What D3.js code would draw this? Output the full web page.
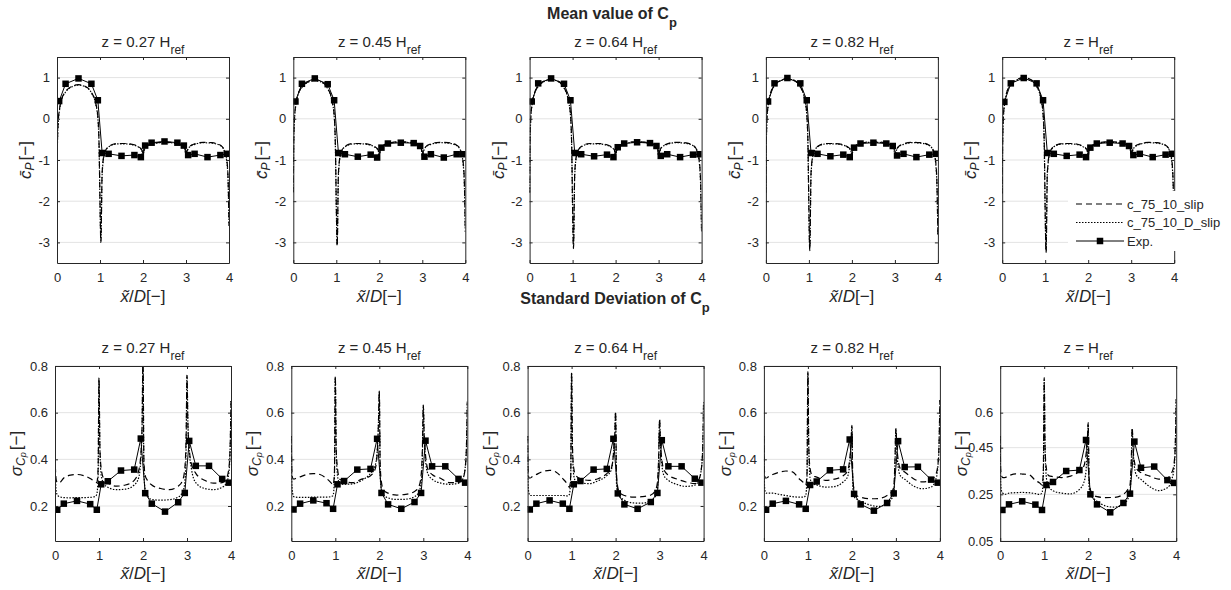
<!DOCTYPE html>
<html><head><meta charset="utf-8">
<script src="https://cdn.jsdelivr.net/npm/d3@7"></script>
<style>
body{margin:0;background:#fff}
svg{display:block}
text{font-family:"Liberation Sans",Arial,sans-serif;fill:#262626}
</style>
</head><body>
<svg id="c" width="1231" height="590"></svg>
<script>
// ---------- data ----------
const xCFD = [0,0.01,0.03,0.06,0.1,0.2,0.35,0.5,0.65,0.8,0.9,0.95,0.98,1.0,1.02,1.05,1.1,1.2,1.4,1.6,1.8,1.9,1.95,1.98,2.0,2.02,2.05,2.1,2.2,2.4,2.6,2.8,2.9,2.95,2.98,3.0,3.02,3.05,3.1,3.2,3.4,3.6,3.8,3.9,3.95,3.98,4.0];
const xExp = [0.05,0.2,0.5,0.8,0.95,1.05,1.2,1.5,1.8,1.95,2.05,2.2,2.5,2.8,2.95,3.05,3.2,3.5,3.8,3.95];
const zLabels = ["0.27 ","0.45 ","0.64 ","0.82 ",""];
const xTicks = [0,1,2,3,4];
const meanTicks = [-3,-2,-1,0,1];
const stdTicks = [0.2,0.4,0.6,0.8];
const stdTicksLast = [0.05,0.25,0.45,0.6];
const legendLabels = ["c_75_10_slip","c_75_10_D_slip","Exp."];

const meanSlip = [
[-1.70,-0.60,-0.05,0.25,0.45,0.66,0.79,0.83,0.79,0.64,0.38,0.05,-0.70,-2.00,-3.00,-1.30,-0.85,-0.67,-0.60,-0.60,-0.63,-0.68,-0.72,-0.78,-0.90,-0.78,-0.70,-0.65,-0.61,-0.57,-0.57,-0.60,-0.64,-0.68,-0.75,-0.90,-0.80,-0.72,-0.66,-0.61,-0.57,-0.58,-0.64,-0.78,-1.00,-1.50,-2.60],
[-1.79,-0.55,0.05,0.35,0.56,0.77,0.90,0.94,0.90,0.74,0.45,0.10,-0.70,-2.10,-3.10,-1.30,-0.85,-0.67,-0.60,-0.60,-0.63,-0.68,-0.72,-0.78,-0.90,-0.78,-0.70,-0.64,-0.60,-0.56,-0.56,-0.59,-0.63,-0.67,-0.74,-0.90,-0.80,-0.72,-0.66,-0.61,-0.57,-0.58,-0.64,-0.78,-1.05,-1.60,-2.75],
[-1.80,-0.55,0.07,0.37,0.58,0.79,0.92,0.96,0.92,0.76,0.47,0.12,-0.70,-2.15,-3.15,-1.30,-0.85,-0.67,-0.60,-0.60,-0.63,-0.68,-0.72,-0.78,-0.90,-0.78,-0.70,-0.64,-0.60,-0.56,-0.56,-0.59,-0.63,-0.67,-0.74,-0.90,-0.80,-0.72,-0.66,-0.61,-0.57,-0.58,-0.64,-0.78,-1.05,-1.65,-2.80],
[-1.80,-0.55,0.08,0.38,0.60,0.81,0.94,0.98,0.94,0.78,0.49,0.13,-0.70,-2.20,-3.20,-1.30,-0.85,-0.67,-0.60,-0.60,-0.63,-0.68,-0.72,-0.78,-0.90,-0.78,-0.70,-0.64,-0.60,-0.56,-0.56,-0.59,-0.63,-0.67,-0.74,-0.90,-0.80,-0.72,-0.66,-0.61,-0.57,-0.58,-0.64,-0.78,-1.05,-1.65,-2.85],
[-1.82,-0.55,0.10,0.40,0.62,0.83,0.96,1.00,0.96,0.80,0.50,0.14,-0.70,-2.25,-3.25,-1.30,-0.85,-0.67,-0.60,-0.60,-0.63,-0.68,-0.72,-0.78,-0.90,-0.78,-0.70,-0.64,-0.60,-0.56,-0.56,-0.59,-0.63,-0.67,-0.74,-0.90,-0.80,-0.72,-0.66,-0.61,-0.57,-0.58,-0.64,-0.78,-1.05,-1.70,-2.90]
];
const meanDSlip = [
[-1.68,-0.62,-0.08,0.22,0.43,0.65,0.78,0.82,0.78,0.63,0.36,0.02,-0.75,-2.05,-2.95,-1.35,-0.87,-0.68,-0.61,-0.61,-0.64,-0.69,-0.73,-0.79,-0.88,-0.80,-0.71,-0.66,-0.62,-0.58,-0.58,-0.61,-0.65,-0.69,-0.76,-0.88,-0.82,-0.73,-0.67,-0.62,-0.58,-0.59,-0.65,-0.80,-1.05,-1.55,-2.55],
[-1.77,-0.58,0.02,0.33,0.55,0.76,0.89,0.93,0.89,0.73,0.43,0.07,-0.75,-2.15,-3.05,-1.35,-0.87,-0.68,-0.61,-0.61,-0.64,-0.69,-0.73,-0.79,-0.88,-0.80,-0.71,-0.65,-0.61,-0.57,-0.57,-0.60,-0.64,-0.68,-0.75,-0.88,-0.82,-0.73,-0.67,-0.62,-0.58,-0.59,-0.65,-0.80,-1.10,-1.65,-2.70],
[-1.78,-0.58,0.04,0.35,0.57,0.78,0.91,0.95,0.91,0.75,0.45,0.09,-0.75,-2.20,-3.10,-1.35,-0.87,-0.68,-0.61,-0.61,-0.64,-0.69,-0.73,-0.79,-0.88,-0.80,-0.71,-0.65,-0.61,-0.57,-0.57,-0.60,-0.64,-0.68,-0.75,-0.88,-0.82,-0.73,-0.67,-0.62,-0.58,-0.59,-0.65,-0.80,-1.10,-1.70,-2.75],
[-1.78,-0.58,0.05,0.36,0.59,0.80,0.93,0.97,0.93,0.77,0.47,0.10,-0.75,-2.25,-3.15,-1.35,-0.87,-0.68,-0.61,-0.61,-0.64,-0.69,-0.73,-0.79,-0.88,-0.80,-0.71,-0.65,-0.61,-0.57,-0.57,-0.60,-0.64,-0.68,-0.75,-0.88,-0.82,-0.73,-0.67,-0.62,-0.58,-0.59,-0.65,-0.80,-1.10,-1.70,-2.80],
[-1.80,-0.58,0.07,0.38,0.61,0.82,0.95,0.99,0.95,0.79,0.48,0.11,-0.75,-2.30,-3.20,-1.35,-0.87,-0.68,-0.61,-0.61,-0.64,-0.69,-0.73,-0.79,-0.88,-0.80,-0.71,-0.65,-0.61,-0.57,-0.57,-0.60,-0.64,-0.68,-0.75,-0.88,-0.82,-0.73,-0.67,-0.62,-0.58,-0.59,-0.65,-0.80,-1.10,-1.75,-2.85]
];
const meanExp = [
[0.43,0.85,0.98,0.85,0.45,-0.83,-0.85,-0.90,-0.88,-0.93,-0.65,-0.58,-0.55,-0.58,-0.65,-0.88,-0.85,-0.93,-0.88,-0.85],
[0.42,0.85,0.98,0.84,0.45,-0.83,-0.86,-0.92,-0.87,-0.94,-0.70,-0.60,-0.58,-0.59,-0.66,-0.92,-0.86,-0.94,-0.86,-0.86],
[0.42,0.86,0.98,0.85,0.45,-0.83,-0.86,-0.91,-0.87,-0.93,-0.69,-0.60,-0.57,-0.59,-0.66,-0.90,-0.86,-0.93,-0.87,-0.86],
[0.42,0.86,0.99,0.86,0.45,-0.83,-0.85,-0.91,-0.87,-0.93,-0.70,-0.60,-0.58,-0.60,-0.66,-0.89,-0.85,-0.93,-0.87,-0.85],
[0.41,0.86,0.99,0.86,0.45,-0.83,-0.85,-0.90,-0.87,-0.93,-0.70,-0.60,-0.58,-0.60,-0.66,-0.88,-0.85,-0.93,-0.87,-0.85]
];
const stdSlip = [
[0.50,0.36,0.31,0.30,0.30,0.32,0.332,0.335,0.33,0.318,0.305,0.30,0.36,0.75,0.45,0.36,0.32,0.30,0.285,0.29,0.31,0.35,0.42,0.55,0.85,0.40,0.33,0.31,0.29,0.275,0.27,0.285,0.31,0.36,0.50,0.76,0.55,0.45,0.38,0.34,0.31,0.298,0.30,0.32,0.36,0.45,0.65],
[0.50,0.36,0.32,0.315,0.318,0.325,0.335,0.339,0.335,0.318,0.30,0.29,0.34,0.757,0.45,0.36,0.315,0.305,0.30,0.315,0.33,0.355,0.42,0.55,0.694,0.38,0.30,0.267,0.255,0.247,0.25,0.262,0.283,0.33,0.45,0.632,0.50,0.42,0.36,0.335,0.318,0.30,0.30,0.317,0.36,0.45,0.647],
[0.50,0.36,0.32,0.32,0.325,0.335,0.348,0.353,0.345,0.317,0.295,0.28,0.33,0.771,0.45,0.36,0.33,0.317,0.31,0.317,0.339,0.36,0.42,0.50,0.604,0.34,0.28,0.256,0.245,0.238,0.24,0.247,0.265,0.30,0.42,0.571,0.47,0.40,0.355,0.332,0.315,0.303,0.296,0.317,0.36,0.45,0.647],
[0.50,0.36,0.32,0.32,0.325,0.335,0.345,0.35,0.346,0.317,0.30,0.289,0.34,0.776,0.45,0.36,0.33,0.324,0.31,0.315,0.33,0.35,0.40,0.47,0.546,0.32,0.27,0.245,0.238,0.231,0.232,0.245,0.26,0.28,0.40,0.532,0.46,0.40,0.36,0.346,0.317,0.303,0.31,0.332,0.37,0.46,0.654],
[0.50,0.36,0.33,0.322,0.322,0.33,0.338,0.337,0.335,0.31,0.298,0.29,0.34,0.75,0.45,0.36,0.33,0.326,0.322,0.328,0.35,0.37,0.42,0.48,0.557,0.32,0.27,0.25,0.24,0.236,0.237,0.25,0.271,0.29,0.40,0.536,0.45,0.39,0.36,0.343,0.328,0.315,0.321,0.343,0.38,0.47,0.657]
];
const stdDSlip = [
[0.50,0.32,0.26,0.245,0.24,0.236,0.235,0.236,0.236,0.237,0.24,0.25,0.33,0.74,0.45,0.33,0.30,0.28,0.27,0.272,0.29,0.32,0.40,0.55,0.85,0.35,0.27,0.245,0.228,0.225,0.227,0.238,0.26,0.30,0.45,0.76,0.56,0.44,0.36,0.30,0.275,0.27,0.28,0.30,0.34,0.44,0.65],
[0.50,0.30,0.255,0.24,0.238,0.237,0.237,0.238,0.238,0.238,0.24,0.245,0.32,0.75,0.45,0.33,0.296,0.293,0.295,0.31,0.34,0.37,0.43,0.55,0.69,0.33,0.27,0.246,0.235,0.228,0.229,0.24,0.26,0.30,0.42,0.63,0.50,0.40,0.34,0.315,0.298,0.293,0.298,0.317,0.36,0.45,0.647],
[0.50,0.30,0.255,0.245,0.245,0.245,0.245,0.245,0.245,0.245,0.243,0.25,0.33,0.77,0.45,0.33,0.303,0.298,0.296,0.308,0.33,0.353,0.42,0.50,0.60,0.30,0.25,0.238,0.225,0.213,0.212,0.224,0.24,0.27,0.40,0.57,0.46,0.38,0.33,0.31,0.292,0.284,0.289,0.317,0.36,0.45,0.647],
[0.50,0.30,0.26,0.255,0.255,0.255,0.25,0.245,0.24,0.238,0.238,0.245,0.33,0.77,0.45,0.32,0.296,0.29,0.281,0.283,0.303,0.325,0.38,0.46,0.54,0.28,0.24,0.231,0.22,0.205,0.198,0.21,0.23,0.25,0.38,0.53,0.44,0.37,0.33,0.315,0.286,0.274,0.281,0.31,0.36,0.46,0.654],
[0.50,0.30,0.265,0.255,0.25,0.255,0.257,0.258,0.257,0.253,0.25,0.255,0.33,0.74,0.45,0.32,0.285,0.265,0.255,0.252,0.271,0.30,0.35,0.45,0.55,0.28,0.245,0.236,0.22,0.20,0.195,0.207,0.23,0.255,0.38,0.53,0.44,0.37,0.33,0.314,0.283,0.266,0.278,0.314,0.36,0.46,0.657]
];
const stdExp = [
[0.184,0.21,0.222,0.208,0.184,0.293,0.306,0.352,0.356,0.489,0.255,0.21,0.176,0.216,0.256,0.479,0.372,0.372,0.316,0.30],
[0.185,0.21,0.224,0.212,0.188,0.293,0.307,0.356,0.359,0.488,0.256,0.207,0.188,0.217,0.256,0.48,0.37,0.37,0.316,0.30],
[0.185,0.21,0.224,0.21,0.188,0.293,0.307,0.356,0.359,0.488,0.254,0.207,0.188,0.217,0.256,0.482,0.37,0.37,0.317,0.30],
[0.184,0.21,0.222,0.207,0.188,0.29,0.305,0.353,0.357,0.485,0.252,0.207,0.18,0.213,0.254,0.478,0.367,0.368,0.313,0.30],
[0.183,0.207,0.22,0.206,0.183,0.29,0.303,0.35,0.354,0.483,0.25,0.207,0.173,0.213,0.253,0.476,0.364,0.369,0.311,0.299]
];

// ---------- drawing ----------
const svg = d3.select("#c");
const STEP = 236.3;
const AXC = "#262626";
const SERIF = "'Liberation Serif','Times New Roman',serif";

function title(x, y, main, sub, size, subSize, bold){
  const t = svg.append("text").attr("x",x).attr("y",y).attr("text-anchor","middle")
    .attr("font-size",size).attr("font-weight",bold?"bold":"normal");
  t.append("tspan").text(main);
  t.append("tspan").attr("font-size",subSize).attr("dy",bold?8:7).text(sub);
}

function panel(i, row){
  const top = row === 0;
  const left = top ? 57 + i*STEP : 55 + i*STEP;
  const w = top ? 172 : 176;
  const y0 = top ? 57 : 366, h = top ? 206 : 175;
  const x = d3.scaleLinear().domain([0,4]).range([left, left+w]);
  const y = d3.scaleLinear().domain(top ? [-3.5,1.5] : [0.05,0.8]).range([y0+h, y0]);
  const yt = top ? meanTicks : (i === 4 ? stdTicksLast : stdTicks);
  const g = svg.append("g");
  const clipId = "clip" + row + i;
  g.append("clipPath").attr("id", clipId).append("rect")
    .attr("x", left).attr("y", y0).attr("width", w).attr("height", h);

  // grid
  g.append("g").selectAll("line").data(yt).join("line")
    .attr("x1", left).attr("x2", left+w)
    .attr("y1", d => y(d)).attr("y2", d => y(d))
    .attr("stroke", "#e3e3e3").attr("stroke-width", 1);

  const slip = top ? meanSlip[i] : stdSlip[i];
  const dslip = top ? meanDSlip[i] : stdDSlip[i];
  const exp = top ? meanExp[i] : stdExp[i];
  const line = d3.line().x((d,j) => x(xCFD[j])).y(d => y(d)).curve(d3.curveMonotoneX);
  const lineE = d3.line().x((d,j) => x(xExp[j])).y(d => y(d));
  const dg = g.append("g").attr("clip-path", `url(#${clipId})`);
  dg.append("path").attr("d", line(slip)).attr("fill","none").attr("stroke","#000")
    .attr("stroke-width",1.2).attr("stroke-dasharray","6,4");
  dg.append("path").attr("d", line(dslip)).attr("fill","none").attr("stroke","#000")
    .attr("stroke-width",1.2).attr("stroke-dasharray","1.5,1.5");
  dg.append("path").attr("d", lineE(exp)).attr("fill","none").attr("stroke","#000").attr("stroke-width",1);
  dg.append("g").selectAll("rect").data(exp).join("rect")
    .attr("x",(d,j) => x(xExp[j]) - 3.25).attr("y", d => y(d) - 3.25)
    .attr("width",6.5).attr("height",6.5).attr("fill","#000");

  // axes (box with inward ticks)
  const fmt = d => String(d);
  const axB = g.append("g").attr("transform",`translate(0,${y0+h})`)
    .call(d3.axisBottom(x).tickValues(xTicks).tickSize(-3).tickSizeOuter(0).tickPadding(10).tickFormat(fmt));
  const axT = g.append("g").attr("transform",`translate(0,${y0})`)
    .call(d3.axisTop(x).tickValues(xTicks).tickSize(-3).tickSizeOuter(0).tickFormat(""));
  const axL = g.append("g").attr("transform",`translate(${left},0)`)
    .call(d3.axisLeft(y).tickValues(yt).tickSize(-3).tickSizeOuter(0).tickPadding(7).tickFormat(fmt));
  const axR = g.append("g").attr("transform",`translate(${left+w},0)`)
    .call(d3.axisRight(y).tickValues(yt).tickSize(-3).tickSizeOuter(0).tickFormat(""));
  [axB, axT, axL, axR].forEach(a => {
    a.select(".domain").attr("stroke", AXC);
    a.selectAll(".tick line").attr("stroke", AXC);
    a.selectAll("text").attr("font-size", 13).attr("fill", AXC)
      .attr("font-family", "'Liberation Sans',Arial,sans-serif");
  });

  // panel title
  title(left + w/2, top ? 47 : 353, "z = " + zLabels[i] + "H", "ref", 15, 12, false);

  // x label (the middle one of the top row is hidden under the second figure title in the reference)
  if (!(top && i === 2)) {
    const xl = g.append("text").attr("x", left + w/2).attr("y", top ? 302 : 579)
      .attr("text-anchor","middle").attr("font-family", SERIF).attr("font-size", 17);
    xl.append("tspan").attr("font-style","italic").text("x\u0303");
    xl.append("tspan").text("/");
    xl.append("tspan").attr("font-style","italic").text("D");
    xl.append("tspan").text("[\u2212]");
  }

  // y label
  const lx = top ? left - 30 : left - 37;
  const ly = y0 + h/2;
  const yl = g.append("text").attr("transform",`translate(${lx},${ly}) rotate(-90)`)
    .attr("text-anchor","middle").attr("dominant-baseline","middle")
    .attr("font-family", SERIF).attr("font-size", 17);
  if (top) {
    yl.append("tspan").attr("font-style","italic").text("c\u0304");
    yl.append("tspan").attr("font-style","italic").attr("font-size",12).attr("dy",4).text("P");
    yl.append("tspan").attr("dy",-4).attr("dx",2).text("[\u2212]");
  } else {
    yl.append("tspan").attr("font-style","italic").text("\u03C3");
    yl.append("tspan").attr("font-style","italic").attr("font-size",12).attr("dy",4).text("C");
    yl.append("tspan").attr("font-style","italic").attr("font-size",9).attr("dy",2).text("p");
    yl.append("tspan").attr("dy",-6).attr("dx",2).text("[\u2212]");
  }
}

for (let i = 0; i < 5; i++) { panel(i, 0); panel(i, 1); }

title(612, 19, "Mean value of C", "p", 16, 13, true);
title(615, 304, "Standard Deviation of C", "p", 16, 13, true);

// legend (inside last mean panel, extending past its right edge)
const lg = svg.append("g");
lg.append("rect").attr("x",1068).attr("y",191).attr("width",158).attr("height",60).attr("fill","#fff");
const rowsY = [204, 222.5, 241];
const dashes = ["6,4","1.5,1.5",null];
legendLabels.forEach((lab, k) => {
  const ln = lg.append("line").attr("x1",1076).attr("x2",1124).attr("y1",rowsY[k]).attr("y2",rowsY[k])
    .attr("stroke","#000").attr("stroke-width", k === 2 ? 1 : 1.2);
  if (dashes[k]) ln.attr("stroke-dasharray", dashes[k]);
  if (k === 2) lg.append("rect").attr("x",1100-3.25).attr("y",rowsY[k]-3.25).attr("width",6.5).attr("height",6.5).attr("fill","#000");
  lg.append("text").attr("x",1127).attr("y",rowsY[k]).attr("dy","0.35em").attr("font-size",13).text(lab);
});
</script>
</body></html>
